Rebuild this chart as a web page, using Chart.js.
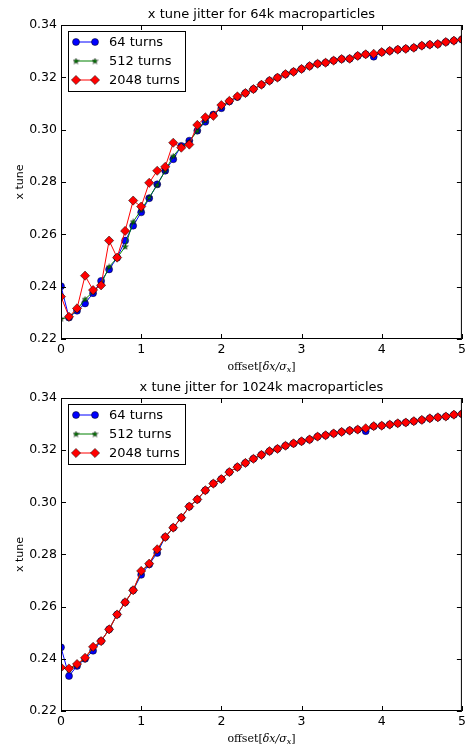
<!DOCTYPE html>
<html>
<head>
<meta charset="utf-8">
<script src="https://cdn.jsdelivr.net/npm/chart.js@4.4.1/dist/chart.umd.min.js"></script>
<style>
    html, body { margin: 0; padding: 0; background: #fff; }
    #wrap { position: relative; width: 467px; height: 747px; }
    canvas { position: absolute; left: 0; }
</style>
</head>
<body>
<div id="wrap">
    <canvas id="topChart" width="467" height="373" style="top:0px"></canvas>
    <canvas id="bottomChart" width="467" height="374" style="top:373px"></canvas>
</div>
<script>
(function(){
    'use strict';

    const offsets = [0, 0.1, 0.2, 0.3, 0.4, 0.5, 0.6, 0.7, 0.8, 0.9,
        1, 1.1, 1.2, 1.3, 1.4, 1.5, 1.6, 1.7, 1.8, 1.9,
        2, 2.1, 2.2, 2.3, 2.4, 2.5, 2.6, 2.7, 2.8, 2.9,
        3, 3.1, 3.2, 3.3, 3.4, 3.5, 3.6, 3.7, 3.8, 3.9,
        4, 4.1, 4.2, 4.3, 4.4, 4.5, 4.6, 4.7, 4.8, 4.9, 5];

    const xTicks = [0, 1, 2, 3, 4, 5];
    const yTicks = [0.22, 0.24, 0.26, 0.28, 0.30, 0.32, 0.34];
    const seriesNames = ['64 turns', '512 turns', '2048 turns'];

    //64k macroparticles
    const top64 = [0.2402, 0.2282, 0.2308, 0.2336, 0.2375, 0.2422, 0.2466, 0.2511, 0.2576, 0.2633,
        0.2684, 0.2738, 0.2791, 0.2843, 0.2887, 0.2938, 0.2958, 0.2996, 0.3030, 0.3058,
        0.3082, 0.3108, 0.3125, 0.3140, 0.3155, 0.3172, 0.3187, 0.3199, 0.3212, 0.3221,
        0.3232, 0.3243, 0.3252, 0.3256, 0.3264, 0.3270, 0.3271, 0.3282, 0.3288, 0.3279,
        0.3296, 0.3301, 0.3306, 0.3309, 0.3313, 0.3321, 0.3325, 0.3327, 0.3335, 0.3340, 0.3345];
    const top512 = [0.2277, 0.2283, 0.2312, 0.2352, 0.2380, 0.2409, 0.2476, 0.2510, 0.2553, 0.2648,
        0.2693, 0.2741, 0.2789, 0.2843, 0.2899, 0.2935, 0.2955, 0.2995, 0.3035, 0.3057,
        0.3086, 0.3110, 0.3126, 0.3140, 0.3155, 0.3172, 0.3187, 0.3199, 0.3212, 0.3221,
        0.3232, 0.3243, 0.3252, 0.3256, 0.3264, 0.3270, 0.3271, 0.3282, 0.3288, 0.3290,
        0.3296, 0.3301, 0.3306, 0.3309, 0.3313, 0.3321, 0.3325, 0.3327, 0.3335, 0.3340, 0.3345];
    const top2048 = [0.2362, 0.2285, 0.2317, 0.2442, 0.2387, 0.2405, 0.2576, 0.2511, 0.2613, 0.2729,
        0.2706, 0.2797, 0.2843, 0.2858, 0.2950, 0.2931, 0.2943, 0.3018, 0.3047, 0.3053,
        0.3094, 0.3110, 0.3127, 0.3140, 0.3155, 0.3172, 0.3187, 0.3199, 0.3212, 0.3221,
        0.3232, 0.3243, 0.3252, 0.3256, 0.3264, 0.3270, 0.3271, 0.3282, 0.3288, 0.3290,
        0.3296, 0.3301, 0.3306, 0.3309, 0.3313, 0.3321, 0.3325, 0.3327, 0.3335, 0.3340, 0.3345];

    //1024k macroparticles
    const bottom64 = [0.2444, 0.2334, 0.2373, 0.2400, 0.2431, 0.2468, 0.2513, 0.2570, 0.2617, 0.2663,
        0.2722, 0.2762, 0.2806, 0.2867, 0.2903, 0.2941, 0.2984, 0.3011, 0.3046, 0.3072,
        0.3089, 0.3116, 0.3135, 0.3151, 0.3167, 0.3182, 0.3196, 0.3205, 0.3217, 0.3226,
        0.3234, 0.3241, 0.3252, 0.3257, 0.3264, 0.3270, 0.3275, 0.3279, 0.3273, 0.3292,
        0.3294, 0.3298, 0.3303, 0.3306, 0.3311, 0.3316, 0.3322, 0.3326, 0.3329, 0.3336, 0.3339];
    const bottom512 = [0.2367, 0.2358, 0.2378, 0.2402, 0.2442, 0.2468, 0.2513, 0.2570, 0.2617, 0.2663,
        0.2732, 0.2765, 0.2816, 0.2867, 0.2903, 0.2941, 0.2984, 0.3011, 0.3046, 0.3072,
        0.3089, 0.3116, 0.3135, 0.3151, 0.3167, 0.3182, 0.3196, 0.3205, 0.3217, 0.3226,
        0.3234, 0.3241, 0.3252, 0.3257, 0.3264, 0.3270, 0.3275, 0.3279, 0.3284, 0.3292,
        0.3294, 0.3298, 0.3303, 0.3306, 0.3311, 0.3316, 0.3322, 0.3326, 0.3329, 0.3336, 0.3339];
    const bottom2048 = [0.2367, 0.2363, 0.2380, 0.2404, 0.2446, 0.2468, 0.2513, 0.2570, 0.2617, 0.2663,
        0.2737, 0.2765, 0.2820, 0.2867, 0.2903, 0.2941, 0.2984, 0.3011, 0.3046, 0.3072,
        0.3089, 0.3116, 0.3135, 0.3151, 0.3167, 0.3182, 0.3196, 0.3205, 0.3217, 0.3226,
        0.3234, 0.3241, 0.3252, 0.3257, 0.3264, 0.3270, 0.3275, 0.3279, 0.3284, 0.3292,
        0.3294, 0.3298, 0.3303, 0.3306, 0.3311, 0.3316, 0.3322, 0.3326, 0.3329, 0.3336, 0.3339];


    // small filled star marker like matplotlib '*'
    function makeStar(){
        const c = document.createElement('canvas');
        c.width = 7; c.height = 7;
        const s = c.getContext('2d');
        s.beginPath();
        for (let i = 0; i < 10; i++){
            const r = i % 2 === 0 ? 3 : 1.3;
            const a = -Math.PI / 2 + i * Math.PI / 5;
            const px = 3.5 + r * Math.cos(a);
            const py = 3.7 + r * Math.sin(a);
            if (i === 0) s.moveTo(px, py); else s.lineTo(px, py);
        }
        s.closePath();
        s.fillStyle = '#008000';
        s.fill();
        s.lineWidth = 0.5;
        s.strokeStyle = '#000';
        s.stroke();
        return c;
    }
    const starImg = makeStar();

    const styles = [
        { color: '#0000ff', pointStyle: 'circle', radius: 3.5, order: 3 },
        { color: '#008000', pointStyle: starImg, radius: 3, order: 2 },
        { color: '#ff0000', pointStyle: 'rectRot', radius: 4.6, order: 1 }
    ];

    function drawMarker(ctx, i, x, y){
        const st = styles[i];
        ctx.save();
        ctx.fillStyle = st.color;
        ctx.strokeStyle = '#000';
        ctx.lineWidth = 0.5;
        if (i === 0){
            ctx.beginPath();
            ctx.arc(x, y, st.radius, 0, Math.PI * 2);
            ctx.fill(); ctx.stroke();
        }
        else if (i === 1){
            ctx.drawImage(starImg, x - 3.5, y - 3.5);
        }
        else {
            const r = st.radius;
            ctx.beginPath();
            ctx.moveTo(x - r, y); ctx.lineTo(x, y - r); ctx.lineTo(x + r, y); ctx.lineTo(x, y + r);
            ctx.closePath();
            ctx.fill(); ctx.stroke();
        }
        ctx.restore();
    }

    // frame, inward ticks, title, axis labels, legend
    const decor = {
        id: 'decor',
        afterDraw(chart, args, opts){
            const ctx = chart.ctx;
            const a = chart.chartArea;
            const xs = chart.scales.x;
            const ys = chart.scales.y;
            ctx.save();

            ctx.strokeStyle = '#000';
            ctx.lineWidth = 1;
            ctx.strokeRect(a.left + 0.5, a.top + 0.5, a.right - a.left - 1, a.bottom - a.top - 1);

            ctx.beginPath();
            xTicks.forEach(function(v){
                const px = Math.round(xs.getPixelForValue(v)) + 0.5;
                ctx.moveTo(px, a.bottom); ctx.lineTo(px, a.bottom - 5);
                ctx.moveTo(px, a.top); ctx.lineTo(px, a.top + 5);
            });
            yTicks.forEach(function(v){
                const py = Math.round(ys.getPixelForValue(v)) + 0.5;
                ctx.moveTo(a.left, py); ctx.lineTo(a.left + 5, py);
                ctx.moveTo(a.right, py); ctx.lineTo(a.right - 5, py);
            });
            ctx.stroke();

            const cx = (a.left + a.right) / 2;
            const cy = (a.top + a.bottom) / 2;
            ctx.fillStyle = '#000';

            // title
            ctx.font = '13px "DejaVu Sans"';
            ctx.textAlign = 'center';
            ctx.textBaseline = 'alphabetic';
            ctx.fillText(opts.title, cx, a.top - 7);

            // y label
            ctx.save();
            ctx.translate(20.5, cy);
            ctx.rotate(-Math.PI / 2);
            ctx.font = '11px "DejaVu Sans"';
            ctx.textBaseline = 'middle';
            ctx.fillText('x tune', 0, 0);
            ctx.restore();

            // x label  offset[δx/σ_x]
            const yb = a.bottom + 31;
            const parts = [
                ['offset[', '11px "DejaVu Serif"', 0],
                ['δx/σ', 'italic 11px "DejaVu Serif"', 0],
                ['x', 'italic 8px "DejaVu Serif"', 2],
                [']', '11px "DejaVu Serif"', 0]
            ];
            let total = 0;
            parts.forEach(function(p){ ctx.font = p[1]; total += ctx.measureText(p[0]).width; });
            let xx = cx - total / 2;
            ctx.textAlign = 'left';
            parts.forEach(function(p){
                ctx.font = p[1];
                ctx.fillText(p[0], xx, yb + p[2]);
                xx += ctx.measureText(p[0]).width;
            });

            // legend
            const bx = 68, bw = 117;
            const by = a.top + 6, bh = 60;
            ctx.fillStyle = '#fff';
            ctx.fillRect(bx, by, bw, bh);
            ctx.strokeStyle = '#000';
            ctx.lineWidth = 1;
            ctx.strokeRect(bx + 0.5, by + 0.5, bw, bh);
            ctx.font = '13px "DejaVu Sans"';
            ctx.textBaseline = 'middle';
            ctx.textAlign = 'left';
            seriesNames.forEach(function(name, i){
                const ry = a.top + 17 + i * 19;
                ctx.strokeStyle = styles[i].color;
                ctx.lineWidth = 1;
                ctx.beginPath();
                ctx.moveTo(76, ry); ctx.lineTo(95, ry);
                ctx.stroke();
                drawMarker(ctx, i, 76, ry);
                drawMarker(ctx, i, 95, ry);
                ctx.fillStyle = '#000';
                ctx.fillText(name, 109, ry + 1);
            });

            ctx.restore();
        }
    };

    function makeChart(canvas, title, values, xAxisHeight){
        const datasets = values.map(function(vals, i){
            const st = styles[i];
            return {
                label: seriesNames[i],
                data: offsets.map(function(x, k){ return { x: x, y: vals[k] }; }),
                borderColor: st.color,
                backgroundColor: st.color,
                borderWidth: 1,
                pointStyle: st.pointStyle,
                pointRadius: st.radius,
                pointBackgroundColor: st.color,
                pointBorderColor: '#000',
                pointBorderWidth: 0.5,
                tension: 0,
                order: st.order
            };
        });

        return new Chart(canvas, {
            type: 'line',
            data: { datasets: datasets },
            plugins: [decor],
            options: {
                responsive: false,
                animation: false,
                events: [],
                layout: { padding: { top: 25, right: 3, left: 0, bottom: 0 } },
                plugins: {
                    legend: { display: false },
                    tooltip: { enabled: false },
                    decor: { title: title }
                },
                scales: {
                    x: {
                        type: 'linear',
                        min: 0,
                        max: 5,
                        grid: { display: false, drawTicks: false },
                        border: { display: false },
                        afterBuildTicks: function(s){ s.ticks = xTicks.map(function(v){ return { value: v }; }); },
                        ticks: {
                            padding: 3,
                            maxRotation: 0,
                            autoSkip: false,
                            color: '#000',
                            font: { family: 'DejaVu Sans', size: 12.5 },
                            callback: function(v){ return String(v); }
                        },
                        afterFit: function(s){ s.height = xAxisHeight; s.paddingLeft = 0; s.paddingRight = 0; }
                    },
                    y: {
                        type: 'linear',
                        min: 0.22,
                        max: 0.34,
                        grid: { display: false, drawTicks: false },
                        border: { display: false },
                        afterBuildTicks: function(s){ s.ticks = yTicks.map(function(v){ return { value: v }; }); },
                        ticks: {
                            padding: 4,
                            autoSkip: false,
                            color: '#000',
                            font: { family: 'DejaVu Sans', size: 12.5 },
                            callback: function(v){ return Number(v).toFixed(2); }
                        },
                        afterFit: function(s){ s.width = 61; s.paddingTop = 0; s.paddingBottom = 0; }
                    }
                }
            }
        });
    }

    makeChart(document.querySelector('#topChart'), 'x tune jitter for 64k macroparticles',
        [top64, top512, top2048], 34);
    makeChart(document.querySelector('#bottomChart'), 'x tune jitter for 1024k macroparticles',
        [bottom64, bottom512, bottom2048], 36);
})();
</script>
</body>
</html>
